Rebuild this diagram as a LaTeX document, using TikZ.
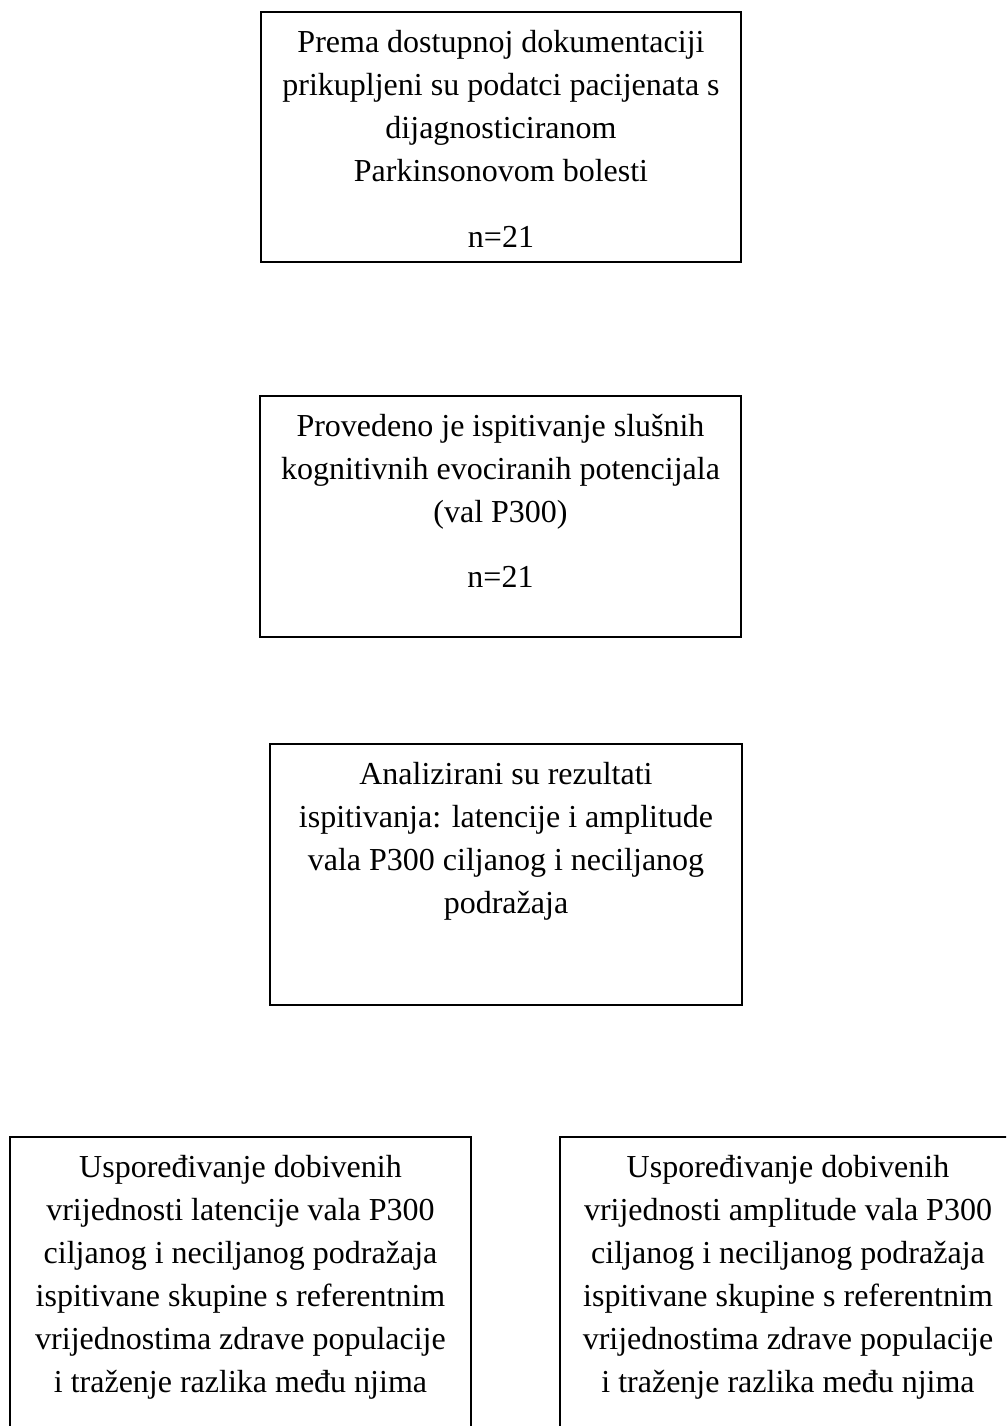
\documentclass[tikz,border=0pt]{standalone}
\usepackage{fontspec}
\setmainfont{Liberation Serif}
\begin{document}
\begin{tikzpicture}[x=1pt,y=-1pt,
  box/.style={draw=black, line width=1.5pt, rectangle, inner sep=0pt, outer sep=0pt},
  txt/.style={align=center, inner sep=0pt, anchor=north, font=\fontsize{32}{43}\selectfont}]
\clip (0,0) rectangle (1006,1426);
\fill[white] (0,0) rectangle (1006,1426);
% boxes
\node[box, minimum width=480pt, minimum height=250pt] (b1) at (501,137) {};
\node[box, minimum width=481pt, minimum height=241pt] (b2) at (500.5,516.5) {};
\node[box, minimum width=472pt, minimum height=261pt] (b3) at (506,874.5) {};
\node[box, minimum width=461pt, minimum height=343pt] (b4) at (240.5,1308.5) {};
\node[box, minimum width=461pt, minimum height=343pt] (b5) at (790.5,1308.5) {};
% texts
\node[txt] (t1) at (501,22) {\strut Prema dostupnoj dokumentaciji\\prikupljeni su podatci pacijenata s\\dijagnosticiranom\\Parkinsonovom bolesti\\[23pt]n=21};
\node[txt] (t2) at (500.5,406) {\strut Provedeno je ispitivanje slušnih\\kognitivnih evociranih potencijala\\(val P300)\\[22pt]n=21};
\node[txt] (t3) at (506,754) {\strut Analizirani su rezultati\\ispitivanja: latencije i amplitude\\vala P300 ciljanog i neciljanog\\podražaja};
\node[txt] (t4) at (240.5,1147) {\strut Uspoređivanje dobivenih\\vrijednosti latencije vala P300\\ciljanog i neciljanog podražaja\\ispitivane skupine s referentnim\\vrijednostima zdrave populacije\\i traženje razlika među njima};
\node[txt] (t5) at (788,1147) {\strut Uspoređivanje dobivenih\\vrijednosti amplitude vala P300\\ciljanog i neciljanog podražaja\\ispitivane skupine s referentnim\\vrijednostima zdrave populacije\\i traženje razlika među njima};
\end{tikzpicture}
\end{document}
